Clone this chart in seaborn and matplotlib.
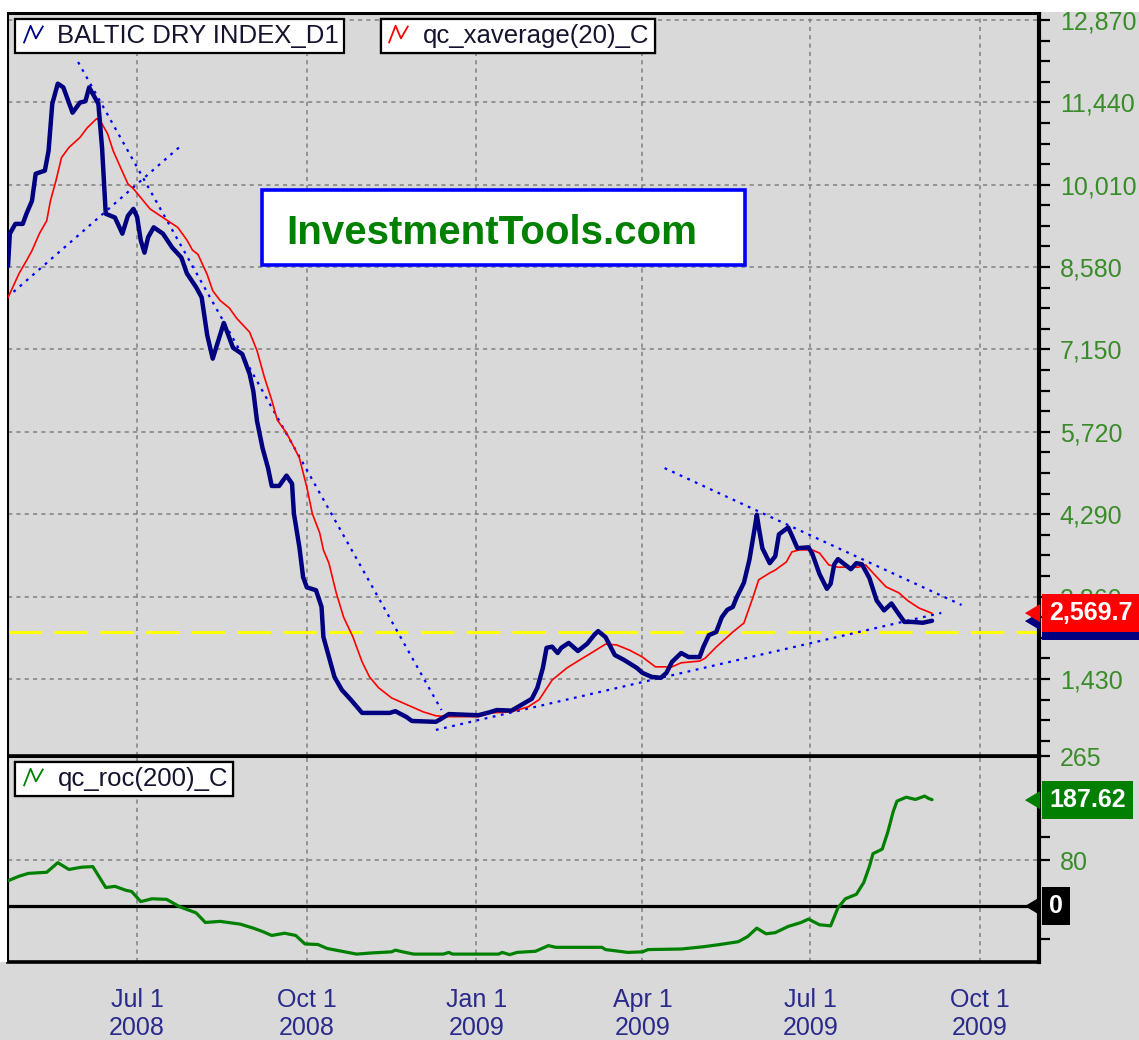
import numpy as np
import pandas as pd
import matplotlib
matplotlib.use('Agg')
import matplotlib.pyplot as plt
from matplotlib.lines import Line2D
from matplotlib.path import Path
from matplotlib.patches import Rectangle
import seaborn as sns

# Baltic Dry Index, daily close
bdi_dates = ['2008-04-22', '2008-04-23', '2008-04-26', '2008-04-30', '2008-05-02', '2008-05-05',
             '2008-05-07', '2008-05-12', '2008-05-14', '2008-05-16', '2008-05-19', '2008-05-22',
             '2008-05-27', '2008-05-31', '2008-06-03', '2008-06-05', '2008-06-10', '2008-06-12',
             '2008-06-14', '2008-06-19', '2008-06-23', '2008-06-26', '2008-06-29', '2008-07-01',
             '2008-07-03', '2008-07-05', '2008-07-07', '2008-07-10', '2008-07-15', '2008-07-20',
             '2008-07-25', '2008-07-28', '2008-08-02', '2008-08-05', '2008-08-08', '2008-08-11',
             '2008-08-14', '2008-08-17', '2008-08-22', '2008-08-27', '2008-08-31', '2008-09-02',
             '2008-09-04', '2008-09-07', '2008-09-10', '2008-09-12', '2008-09-16', '2008-09-20',
             '2008-09-23', '2008-09-24', '2008-09-27', '2008-09-29', '2008-10-01', '2008-10-06',
             '2008-10-09', '2008-10-10', '2008-10-13', '2008-10-16', '2008-10-20', '2008-10-25',
             '2008-10-31', '2008-11-15', '2008-11-18', '2008-11-24', '2008-11-27', '2008-12-10',
             '2008-12-13', '2008-12-17', '2009-01-02', '2009-01-08', '2009-01-12', '2009-01-20',
             '2009-01-24', '2009-01-31', '2009-02-03', '2009-02-06', '2009-02-08', '2009-02-11',
             '2009-02-14', '2009-02-16', '2009-02-20', '2009-02-25', '2009-03-02', '2009-03-06',
             '2009-03-08', '2009-03-12', '2009-03-17', '2009-03-22', '2009-03-29', '2009-04-01',
             '2009-04-06', '2009-04-11', '2009-04-14', '2009-04-17', '2009-04-22', '2009-04-26',
             '2009-05-02', '2009-05-04', '2009-05-07', '2009-05-11', '2009-05-14', '2009-05-17',
             '2009-05-20', '2009-05-22', '2009-05-26', '2009-05-29', '2009-06-01', '2009-06-02',
             '2009-06-03', '2009-06-05', '2009-06-09', '2009-06-12', '2009-06-14', '2009-06-19',
             '2009-06-21', '2009-06-24', '2009-06-30', '2009-07-02', '2009-07-06', '2009-07-10',
             '2009-07-12', '2009-07-14', '2009-07-16', '2009-07-23', '2009-07-26', '2009-07-29',
             '2009-08-02', '2009-08-06', '2009-08-10', '2009-08-14', '2009-08-17', '2009-08-21',
             '2009-08-25', '2009-08-31', '2009-09-05']
bdi_close = [8600, 9160, 9330, 9330, 9505, 9730,
             10200, 10255, 10600, 11415, 11765, 11700,
             11260, 11435, 11460, 11700, 11415, 10650,
             9505, 9440, 9160, 9470, 9590, 9450,
             9040, 8830, 9100, 9270, 9160, 8920,
             8745, 8470, 8230, 8055, 7400, 6990,
             7300, 7610, 7180, 7070, 6725, 6430,
             5910, 5440, 5090, 4780, 4780, 4960,
             4820, 4305, 3715, 3200, 3020, 2970,
             2680, 2160, 1810, 1465, 1240, 1065,
             840, 840, 870, 770, 700, 685,
             740, 820, 800, 850, 890, 880,
             955, 1085, 1275, 1620, 1970, 1990,
             1880, 1970, 2055, 1915, 2040, 2200,
             2260, 2155, 1845, 1760, 1620, 1535,
             1465, 1450, 1535, 1725, 1880, 1810,
             1810, 1985, 2190, 2245, 2500, 2630,
             2680, 2840, 3100, 3500, 4075, 4280,
             4075, 3700, 3440, 3560, 3940, 4060,
             3920, 3700, 3715, 3610, 3250, 2995,
             3080, 3420, 3510, 3335, 3440, 3420,
             3185, 2790, 2620, 2740, 2600, 2420,
             2420, 2405, 2440]

# qc_xaverage(20) (red line)
ema_dates = ['2008-04-22', '2008-04-28', '2008-05-02', '2008-05-05', '2008-05-09', '2008-05-13',
             '2008-05-15', '2008-05-18', '2008-05-21', '2008-05-25', '2008-05-31', '2008-06-04',
             '2008-06-09', '2008-06-11', '2008-06-15', '2008-06-18', '2008-06-22', '2008-06-26',
             '2008-06-29', '2008-07-03', '2008-07-08', '2008-07-15', '2008-07-23', '2008-07-28',
             '2008-07-31', '2008-08-03', '2008-08-08', '2008-08-11', '2008-08-15', '2008-08-20',
             '2008-08-24', '2008-08-31', '2008-09-04', '2008-09-08', '2008-09-12', '2008-09-15',
             '2008-09-20', '2008-09-24', '2008-09-27', '2008-10-01', '2008-10-04', '2008-10-08',
             '2008-10-10', '2008-10-13', '2008-10-17', '2008-10-21', '2008-10-26', '2008-10-31',
             '2008-11-04', '2008-11-09', '2008-11-16', '2008-11-22', '2008-11-27', '2008-12-03',
             '2008-12-10', '2008-12-16', '2009-01-02', '2009-01-09', '2009-01-20', '2009-01-29',
             '2009-02-04', '2009-02-11', '2009-02-19', '2009-02-26', '2009-03-05', '2009-03-12',
             '2009-03-18', '2009-03-25', '2009-04-01', '2009-04-08', '2009-04-17', '2009-04-22',
             '2009-05-02', '2009-05-05', '2009-05-11', '2009-05-20', '2009-05-26', '2009-05-31',
             '2009-06-03', '2009-06-09', '2009-06-12', '2009-06-18', '2009-06-21', '2009-06-25',
             '2009-07-02', '2009-07-06', '2009-07-11', '2009-07-16', '2009-07-27', '2009-07-31',
             '2009-08-05', '2009-08-11', '2009-08-18', '2009-08-23', '2009-08-29', '2009-09-05']
ema_values = [8050, 8470, 8690, 8865, 9160, 9385,
              9730, 10080, 10480, 10655, 10830, 11000,
              11155, 11120, 10895, 10600, 10310, 10025,
              9940, 9785, 9590, 9440, 9270, 9050,
              8875, 8800, 8450, 8170, 8000, 7870,
              7690, 7450, 7130, 6670, 6270, 5925,
              5700, 5455, 5265, 4760, 4300, 3965,
              3670, 3440, 2920, 2500, 2160, 1725,
              1465, 1275, 1100, 1015, 945, 860,
              790, 775, 775, 840, 860, 945,
              1070, 1410, 1620, 1760, 1895, 2035,
              2020, 1930, 1810, 1640, 1640, 1710,
              1740, 1790, 1985, 2245, 2400, 2855,
              3150, 3270, 3320, 3460, 3635, 3670,
              3670, 3615, 3410, 3370, 3370, 3410,
              3235, 3030, 2925, 2785, 2660, 2569.7]

# qc_roc(200) (green line, lower panel)
roc_dates = ['2008-04-22', '2008-04-28', '2008-05-03', '2008-05-13', '2008-05-19', '2008-05-25',
             '2008-06-01', '2008-06-07', '2008-06-14', '2008-06-19', '2008-06-25', '2008-06-28',
             '2008-07-03', '2008-07-09', '2008-07-17', '2008-07-24', '2008-08-02', '2008-08-07',
             '2008-08-15', '2008-08-26', '2008-09-02', '2008-09-07', '2008-09-12', '2008-09-19',
             '2008-09-25', '2008-09-30', '2008-10-07', '2008-10-12', '2008-10-20', '2008-10-28',
             '2008-11-05', '2008-11-16', '2008-11-18', '2008-11-22', '2008-11-28', '2008-12-14',
             '2008-12-17', '2008-12-19', '2009-01-13', '2009-01-15', '2009-01-19', '2009-01-23',
             '2009-02-02', '2009-02-09', '2009-02-13', '2009-03-10', '2009-03-12', '2009-03-24',
             '2009-04-01', '2009-04-04', '2009-04-22', '2009-05-04', '2009-05-13', '2009-05-23',
             '2009-05-28', '2009-06-02', '2009-06-07', '2009-06-12', '2009-06-19', '2009-06-26',
             '2009-06-30', '2009-07-06', '2009-07-12', '2009-07-16', '2009-07-20', '2009-07-26',
             '2009-07-30', '2009-08-02', '2009-08-04', '2009-08-09', '2009-08-12', '2009-08-15',
             '2009-08-17', '2009-08-22', '2009-08-27', '2009-09-01', '2009-09-03', '2009-09-05']
roc_values = [44, 52, 57, 59, 76, 64,
              68, 69, 32, 34, 27, 25,
              7, 12, 11, -2, -13, -30,
              -28, -33, -40, -46, -53, -49,
              -53, -68, -69, -76, -81, -86,
              -84, -82, -79, -82, -86, -86,
              -83, -86, -86, -83, -87, -83,
              -81, -71, -74, -74, -78, -83,
              -82, -78, -77, -73, -69, -64,
              -55, -40, -50, -48, -37, -30,
              -24, -34, -36, -4, 12, 20,
              41, 69, 92, 100, 130, 167,
              185, 192, 188, 194, 190, 187.62]

# dotted trendlines drawn on the chart
trend_start = ['2008-05-30', '2008-04-25', '2008-12-10', '2009-04-13']
trend_end = ['2008-12-13', '2008-07-24', '2009-09-10', '2009-09-21']
trend_start_val = [12140, 8150, 545, 5090]
trend_end_val = [890, 10665, 2576, 2714]
support_level = 2250

price_ticks = [1430, 2860, 4290, 5720, 7150, 8580, 10010, 11440, 12870]
price_labels = ['1,430', '2,860', '4,290', '5,720', '7,150', '8,580', '10,010', '11,440', '12,870']
roc_ticks = [80, 265]
quarter_dates = ['2008-04-01', '2008-07-01', '2008-10-01', '2009-01-01', '2009-04-01',
                 '2009-07-01', '2009-10-01', '2010-01-01']
quarter_labels = ['Jul 1\n2008', 'Oct 1\n2008', 'Jan 1\n2009', 'Apr 1\n2009',
                  'Jul 1\n2009', 'Oct 1\n2009']

sns.set_theme(style='white')
plt.rcParams['font.family'] = ['Liberation Sans', 'DejaVu Sans']
plt.rcParams['lines.scale_dashes'] = False

BG = '#d9d9d9'
NAVY = '#000080'
GREEN_TXT = '#3a8c2a'
DATE_TXT = '#2a2a8a'

fig = plt.figure(figsize=(11.39, 10.40), dpi=100, facecolor=BG)
left, width = 8 / 1139, 1031 / 1139
ax = fig.add_axes([left, 284 / 1040, width, 743 / 1040])
ax2 = fig.add_axes([left, 78 / 1040, width, 206 / 1040], sharex=ax)

bdi = pd.DataFrame({'date': pd.to_datetime(bdi_dates), 'close': bdi_close})
ema = pd.DataFrame({'date': pd.to_datetime(ema_dates), 'value': ema_values})
roc = pd.DataFrame({'date': pd.to_datetime(roc_dates), 'value': roc_values})

qd = pd.to_datetime(quarter_dates)
major_x = qd[1:-1]
minor_x = []
for a, b in zip(qd[:-1], qd[1:]):
    for k in (1, 2, 3):
        minor_x.append(a + (b - a) * k / 4)

for a in (ax, ax2):
    a.set_facecolor(BG)
    a.set_axisbelow(True)
    a.set_xticks(major_x)
    a.grid(True, color='#808080', lw=1.1, linestyle=(0, (3, 3)))

# main panel
ax.axhline(support_level, color='#ffff00', lw=2.2, linestyle=(0, (24, 9)), zorder=2)
for s, e, sv, ev in zip(trend_start, trend_end, trend_start_val, trend_end_val):
    ax.plot(pd.to_datetime([s, e]), [sv, ev], color='#0000ff', lw=1.6,
            linestyle=(0, (2, 4)), zorder=2)
sns.lineplot(data=ema, x='date', y='value', ax=ax, color='#ff0000', lw=1.2,
             estimator=None, sort=False, zorder=3)
sns.lineplot(data=bdi, x='date', y='close', ax=ax, color=NAVY, lw=3.2,
             estimator=None, sort=False, zorder=4)

ax.set_xlim(pd.Timestamp('2008-04-22'), pd.Timestamp('2009-11-02'))
ax.set_ylim(92, 12991)
ax.set_xlabel('')
ax.set_ylabel('')
ax.yaxis.tick_right()
ax.set_yticks(price_ticks)
ax.set_yticklabels(price_labels)
ax.set_yticks([t - q for t in price_ticks for q in (357.5, 715, 1072.5)], minor=True)
ax.tick_params(axis='y', which='both', direction='out', length=8, width=1.6,
               color='black', labelcolor=GREEN_TXT, labelsize=18, pad=7,
               left=False, right=True)
ax.tick_params(axis='x', which='both', length=0, labelbottom=False)

# lower panel
sns.lineplot(data=roc, x='date', y='value', ax=ax2, color='#008000', lw=2.3,
             estimator=None, sort=False, zorder=3)
ax2.axhline(0, color='black', lw=2.3, zorder=2)
ax2.set_ylim(-100, 265)
ax2.set_xlabel('')
ax2.set_ylabel('')
ax2.yaxis.tick_right()
ax2.set_yticks(roc_ticks)
ax2.set_yticklabels([str(t) for t in roc_ticks])
ax2.set_yticks([-60, 122], minor=True)
ax2.tick_params(axis='y', which='both', direction='out', length=8, width=1.6,
                color='black', labelcolor=GREEN_TXT, labelsize=18, pad=7,
                left=False, right=True)
ax2.set_xticks(minor_x, minor=True)
ax2.set_xticklabels(quarter_labels)
ax2.tick_params(axis='x', which='major', direction='out', length=11, width=1.6,
                color='black', labelcolor=DATE_TXT, labelsize=18, pad=8)
ax2.tick_params(axis='x', which='minor', direction='out', length=7, width=1.6,
                color='black')
ax2.set_xlim(pd.Timestamp('2008-04-22'), pd.Timestamp('2009-11-02'))

for a in (ax, ax2):
    for side, lw in (('left', 1.5), ('top', 2.2), ('bottom', 2.6), ('right', 3.0)):
        a.spines[side].set_visible(True)
        a.spines[side].set_color('black')
        a.spines[side].set_linewidth(lw)

# legend boxes with the little zig-zag icon
zig = Path([(-1.0, -0.9), (-0.3, 0.9), (0.25, -0.4), (1.0, 0.9)])


def legend_box(axis, label, color, anchor):
    h = Line2D([], [], ls='none', marker=zig, ms=14, mec=color, mfc='none', mew=1.3)
    leg = axis.legend(handles=[h], labels=[label], loc='upper left', bbox_to_anchor=anchor,
                      frameon=True, fancybox=False, edgecolor='black', framealpha=1,
                      facecolor='white', fontsize=18.5, handlelength=1.0, handletextpad=0.45,
                      borderpad=0.2, borderaxespad=0)
    leg.get_frame().set_linewidth(1.6)
    for t in leg.get_texts():
        t.set_color('#14142e')
    axis.add_artist(leg)


legend_box(ax, 'BALTIC DRY INDEX_D1', NAVY, (0.0068, 0.992))
legend_box(ax, 'qc_xaverage(20)_C', '#ff0000', (0.3613, 0.992))
legend_box(ax2, 'qc_roc(200)_C', '#008000', (0.0068, 0.971))

# site banner
ax.add_patch(Rectangle((0.2464, 0.661), 0.4685, 0.101, transform=ax.transAxes,
                       fc='white', ec='#0000ff', lw=2.6, zorder=1.5))
ax.text(0.4695, 0.689, 'InvestmentTools.com', transform=ax.transAxes, ha='center',
        va='baseline', fontsize=29, fontweight='bold', color='#008000', zorder=1.6)

# last-value tags on the right axis
tag_tri = Path([(-1.0, 0.0), (0.0, 0.6), (0.0, -0.6)])


def value_tag(axis, value, text, color, z):
    tr = axis.get_yaxis_transform()
    axis.plot([1.0], [value], ls='none', marker=tag_tri, ms=20, color=color, mec=color,
              transform=tr, clip_on=False, zorder=z)
    axis.annotate(text, xy=(1.0, value), xycoords=tr, xytext=(10, 0),
                  textcoords='offset pixels', ha='left', va='center', color='white',
                  fontsize=18, fontweight='bold', annotation_clip=False, zorder=z,
                  bbox=dict(boxstyle='square,pad=0.28', fc=color, ec='none'))


value_tag(ax, bdi_close[-1], f'{bdi_close[-1]:,.1f}', NAVY, 10)
value_tag(ax, ema_values[-1], f'{ema_values[-1]:,.1f}', '#ff0000', 11)
value_tag(ax2, roc_values[-1], f'{roc_values[-1]:.2f}', '#007f00', 10)
value_tag(ax2, 0, '0', 'black', 10)

# white screenshot margin along the top and left edges
fig.patches.append(Rectangle((0, 1 - 12 / 1040), 1, 12 / 1040, transform=fig.transFigure,
                             fc='white', ec='none', zorder=20))
fig.patches.append(Rectangle((0, 78 / 1040), 7 / 1139, 962 / 1040, transform=fig.transFigure,
                             fc='white', ec='none', zorder=20))

fig.savefig('out.png', dpi=100, facecolor=BG)
